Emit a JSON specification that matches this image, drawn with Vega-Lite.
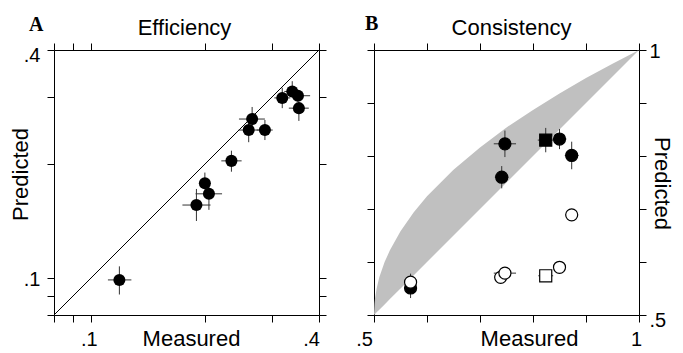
{
  "$schema": "https://vega.github.io/schema/vega-lite/v6.json",
  "padding": {"left": 8, "top": 13, "right": 0, "bottom": 0},
  "background": "white",
  "config": {
    "view": {"stroke": "black", "strokeWidth": 1},
    "axis": {
      "domain": false, "grid": false, "tickColor": "black", "tickWidth": 1, "tickSize": 7,
      "labelFont": "Liberation Sans", "labelFontSize": 20, "labelColor": "black",
      "titleFont": "Liberation Sans", "titleFontSize": 22, "titleFontWeight": "normal", "titleColor": "black",
      "labelOverlap": false, "labelFlush": false, "labelBound": false
    }
  },
  "spacing": 55,
  "bounds": "flush",
  "hconcat": [
    {
      "width": 265, "height": 265,
      "title": {"text": "A", "anchor": "start", "frame": "group", "font": "Liberation Serif", "fontWeight": "bold", "fontSize": 20, "color": "black", "baseline": "alphabetic", "offset": 0, "dx": -25, "dy": 35},
      "resolve": {"axis": {"x": "independent", "y": "independent"}},
      "layer": [
        {
          "data": {"values": [{"mx": 0.08, "py": 0.08}, {"mx": 0.4, "py": 0.4}]},
          "mark": {"type": "line", "color": "black", "strokeWidth": 1, "clip": true},
          "encoding": {
            "x": {"field": "mx", "type": "quantitative", "scale": {"type": "log", "domain": [0.08, 0.4], "nice": false},
              "axis": {"orient": "bottom", "values": [0.08, 0.09, 0.1, 0.2, 0.3, 0.4],
                "labelExpr": "datum.value == 0.1 ? '.1' : datum.value == 0.4 ? '.4' : ''",
                "labelBaseline": "alphabetic", "labelPadding": 23, "labelAlign": "center",
                "labelOffset": {"condition": {"test": "datum.value == 0.4", "value": -8}, "value": -2},
                "title": "Measured", "titleX": 137, "titleY": 30, "titleBaseline": "alphabetic"}},
            "y": {"field": "py", "type": "quantitative", "scale": {"type": "log", "domain": [0.08, 0.4], "nice": false},
              "axis": {"orient": "left", "values": [0.08, 0.09, 0.1, 0.2, 0.3, 0.4],
                "labelExpr": "datum.value == 0.1 ? '.1' : datum.value == 0.4 ? '.4' : ''",
                "labelPadding": 7, "labelBaseline": "middle",
                "labelOffset": {"condition": {"test": "datum.value == 0.4", "value": 5}, "value": 1},
                "title": "Predicted", "titleAngle": -90, "titleX": -27, "titleY": 124, "titleBaseline": "alphabetic"}}
          }
        },
        {
          "data": {"name": "effA"},
          "transform": [{"filter": "isValid(datum.xlo)"}],
          "mark": {"type": "rule", "color": "#333333", "strokeWidth": 1},
          "encoding": {
            "x": {"field": "xlo", "type": "quantitative", "scale": {"type": "log", "domain": [0.08, 0.4], "nice": false},
              "axis": {"orient": "top", "values": [0.08, 0.09, 0.1, 0.2, 0.3, 0.4], "labels": false,
                "title": "Efficiency", "titleX": 130, "titleY": -16, "titleBaseline": "alphabetic"}},
            "x2": {"field": "xhi"},
            "y": {"field": "y", "type": "quantitative", "scale": {"type": "log", "domain": [0.08, 0.4], "nice": false},
              "axis": {"orient": "right", "values": [0.08, 0.09, 0.1, 0.2, 0.3, 0.4], "labels": false, "title": null}}
          }
        },
        {
          "data": {"name": "effA"},
          "transform": [{"filter": "isValid(datum.ylo)"}],
          "mark": {"type": "rule", "color": "#333333", "strokeWidth": 1},
          "encoding": {
            "x": {"field": "x", "type": "quantitative", "axis": null},
            "y": {"field": "ylo", "type": "quantitative", "axis": null},
            "y2": {"field": "yhi"}
          }
        },
        {
          "data": {"name": "effA"},
          "mark": {"type": "point", "shape": "circle", "filled": true, "color": "black", "size": 145, "opacity": 1},
          "encoding": {
            "x": {"field": "x", "type": "quantitative", "axis": null},
            "y": {"field": "y", "type": "quantitative", "axis": null}
          }
        }
      ]
    },
    {
      "width": 265, "height": 265,
      "title": {"text": "B", "anchor": "start", "frame": "group", "font": "Liberation Serif", "fontWeight": "bold", "fontSize": 20, "color": "black", "baseline": "alphabetic", "offset": 0, "dx": -9, "dy": 34},
      "resolve": {"axis": {"x": "independent", "y": "independent"}},
      "layer": [
        {
          "data": {"name": "band"},
          "mark": {"type": "area", "color": "#c0c0c0", "opacity": 1},
          "encoding": {
            "x": {"field": "bx", "type": "quantitative", "scale": {"domain": [0.5, 1], "nice": false, "zero": false},
              "axis": {"orient": "bottom", "values": [0.5, 0.6, 0.7, 0.8, 0.9, 1],
                "labelExpr": "datum.value == 0.5 ? '.5' : datum.value == 1 ? '1' : ''",
                "labelBaseline": "alphabetic", "labelPadding": 23, "labelAlign": "center",
                "labelOffset": {"condition": {"test": "datum.value == 0.5", "value": -10}, "value": -3},
                "title": "Measured", "titleX": 155, "titleY": 30, "titleBaseline": "alphabetic"}},
            "y": {"field": "upper", "type": "quantitative", "scale": {"domain": [0.5, 1], "nice": false, "zero": false},
              "axis": {"orient": "left", "values": [0.5, 0.6, 0.7, 0.8, 0.9, 1], "labels": false, "title": null}},
            "y2": {"field": "lower"}
          }
        },
        {
          "data": {"name": "conB"},
          "transform": [{"filter": "isValid(datum.xlo)"}],
          "mark": {"type": "rule", "color": "#333333", "strokeWidth": 1},
          "encoding": {
            "x": {"field": "xlo", "type": "quantitative", "scale": {"domain": [0.5, 1], "nice": false, "zero": false},
              "axis": {"orient": "top", "values": [0.5, 0.6, 0.7, 0.8, 0.9, 1], "labels": false,
                "title": "Consistency", "titleX": 137, "titleY": -16, "titleBaseline": "alphabetic"}},
            "x2": {"field": "xhi"},
            "y": {"field": "y", "type": "quantitative", "scale": {"domain": [0.5, 1], "nice": false, "zero": false},
              "axis": {"orient": "right", "values": [0.5, 0.6, 0.7, 0.8, 0.9, 1],
                "labelExpr": "datum.value == 0.5 ? '.5' : datum.value == 1 ? '1' : ''",
                "labelPadding": 3, "labelBaseline": "middle",
                "labelOffset": {"condition": {"test": "datum.value == 0.5", "value": 5}, "value": 1},
                "title": "Predicted", "titleAngle": 90, "titleX": 15, "titleY": 133, "titleBaseline": "alphabetic"}}
          }
        },
        {
          "data": {"name": "conB"},
          "transform": [{"filter": "isValid(datum.ylo)"}],
          "mark": {"type": "rule", "color": "#333333", "strokeWidth": 1},
          "encoding": {
            "x": {"field": "x", "type": "quantitative", "axis": null},
            "y": {"field": "ylo", "type": "quantitative", "axis": null},
            "y2": {"field": "yhi"}
          }
        },
        {
          "data": {"name": "conB"},
          "mark": {"type": "point", "filled": true, "stroke": "black", "strokeWidth": 1.2, "size": 145, "opacity": 1},
          "encoding": {
            "x": {"field": "x", "type": "quantitative", "axis": null},
            "y": {"field": "y", "type": "quantitative", "axis": null},
            "shape": {"field": "shape", "type": "nominal", "scale": {"domain": ["circle", "square"], "range": ["circle", "square"]}, "legend": null},
            "fill": {"field": "kind", "type": "nominal", "scale": {"domain": ["filled", "open"], "range": ["black", "white"]}, "legend": null}
          }
        }
      ]
    }
  ],
  "datasets": {
    "effA": [
      {"x": 0.119, "y": 0.099, "xlo": 0.111, "xhi": 0.128, "ylo": 0.0906, "yhi": 0.1075},
      {"x": 0.190, "y": 0.156, "xlo": 0.1745, "xhi": 0.207, "ylo": 0.1416, "yhi": 0.172},
      {"x": 0.200, "y": 0.178, "xlo": 0.193, "xhi": 0.207, "ylo": 0.172, "yhi": 0.190},
      {"x": 0.205, "y": 0.167, "xlo": 0.189, "xhi": 0.222, "ylo": 0.1515, "yhi": 0.175},
      {"x": 0.235, "y": 0.204, "xlo": 0.221, "xhi": 0.250, "ylo": 0.191, "yhi": 0.217},
      {"x": 0.261, "y": 0.246, "xlo": 0.2455, "xhi": 0.2775, "ylo": 0.2285, "yhi": 0.258},
      {"x": 0.2665, "y": 0.263, "xlo": 0.246, "xhi": 0.288, "ylo": 0.250, "yhi": 0.283},
      {"x": 0.288, "y": 0.246, "xlo": 0.274, "xhi": 0.302, "ylo": 0.2315, "yhi": 0.2615},
      {"x": 0.320, "y": 0.299, "xlo": 0.305, "xhi": 0.336, "ylo": 0.281, "yhi": 0.318},
      {"x": 0.340, "y": 0.311, "xlo": 0.324, "xhi": 0.357, "ylo": 0.300, "yhi": 0.331},
      {"x": 0.352, "y": 0.303, "xlo": 0.339, "xhi": 0.379, "ylo": 0.292, "yhi": 0.314},
      {"x": 0.354, "y": 0.281, "xlo": 0.333, "xhi": 0.376, "ylo": 0.260, "yhi": 0.291}
    ],
    "conB": [
      {"x": 0.747, "y": 0.823, "kind": "filled", "shape": "circle", "xlo": 0.726, "xhi": 0.768, "ylo": 0.798, "yhi": 0.848},
      {"x": 0.741, "y": 0.760, "kind": "filled", "shape": "circle", "xlo": 0.728, "xhi": 0.754, "ylo": 0.739, "yhi": 0.781},
      {"x": 0.850, "y": 0.832, "kind": "filled", "shape": "circle", "xlo": 0.837, "xhi": 0.863, "ylo": 0.813, "yhi": 0.851},
      {"x": 0.873, "y": 0.801, "kind": "filled", "shape": "circle", "xlo": 0.860, "xhi": 0.886, "ylo": 0.775, "yhi": 0.827},
      {"x": 0.824, "y": 0.830, "kind": "filled", "shape": "square", "xlo": 0.809, "xhi": 0.839, "ylo": 0.807, "yhi": 0.853},
      {"x": 0.569, "y": 0.551, "kind": "filled", "shape": "circle", "xlo": 0.560, "xhi": 0.578, "ylo": 0.532, "yhi": 0.570},
      {"x": 0.569, "y": 0.562, "kind": "open", "shape": "circle", "xlo": 0.565, "xhi": 0.573, "ylo": 0.548, "yhi": 0.578},
      {"x": 0.873, "y": 0.689, "kind": "open", "shape": "circle"},
      {"x": 0.850, "y": 0.590, "kind": "open", "shape": "circle"},
      {"x": 0.739, "y": 0.571, "kind": "open", "shape": "circle"},
      {"x": 0.747, "y": 0.579, "kind": "open", "shape": "circle", "xlo": 0.726, "xhi": 0.768},
      {"x": 0.824, "y": 0.574, "kind": "open", "shape": "square", "xlo": 0.810, "xhi": 0.838}
    ],
    "band": [
      {"bx": 0.5, "upper": 0.5, "lower": 0.5},
      {"bx": 0.501, "upper": 0.522, "lower": 0.501},
      {"bx": 0.502, "upper": 0.532, "lower": 0.502},
      {"bx": 0.505, "upper": 0.55, "lower": 0.505},
      {"bx": 0.51, "upper": 0.571, "lower": 0.51},
      {"bx": 0.52, "upper": 0.6, "lower": 0.52},
      {"bx": 0.53, "upper": 0.622, "lower": 0.53},
      {"bx": 0.55, "upper": 0.658, "lower": 0.55},
      {"bx": 0.575, "upper": 0.694, "lower": 0.575},
      {"bx": 0.6, "upper": 0.724, "lower": 0.6},
      {"bx": 0.65, "upper": 0.774, "lower": 0.65},
      {"bx": 0.7, "upper": 0.816, "lower": 0.7},
      {"bx": 0.75, "upper": 0.854, "lower": 0.75},
      {"bx": 0.8, "upper": 0.887, "lower": 0.8},
      {"bx": 0.85, "upper": 0.918, "lower": 0.85},
      {"bx": 0.9, "upper": 0.947, "lower": 0.9},
      {"bx": 0.95, "upper": 0.974, "lower": 0.95},
      {"bx": 1.0, "upper": 1.0, "lower": 1.0}
    ]
  }
}
